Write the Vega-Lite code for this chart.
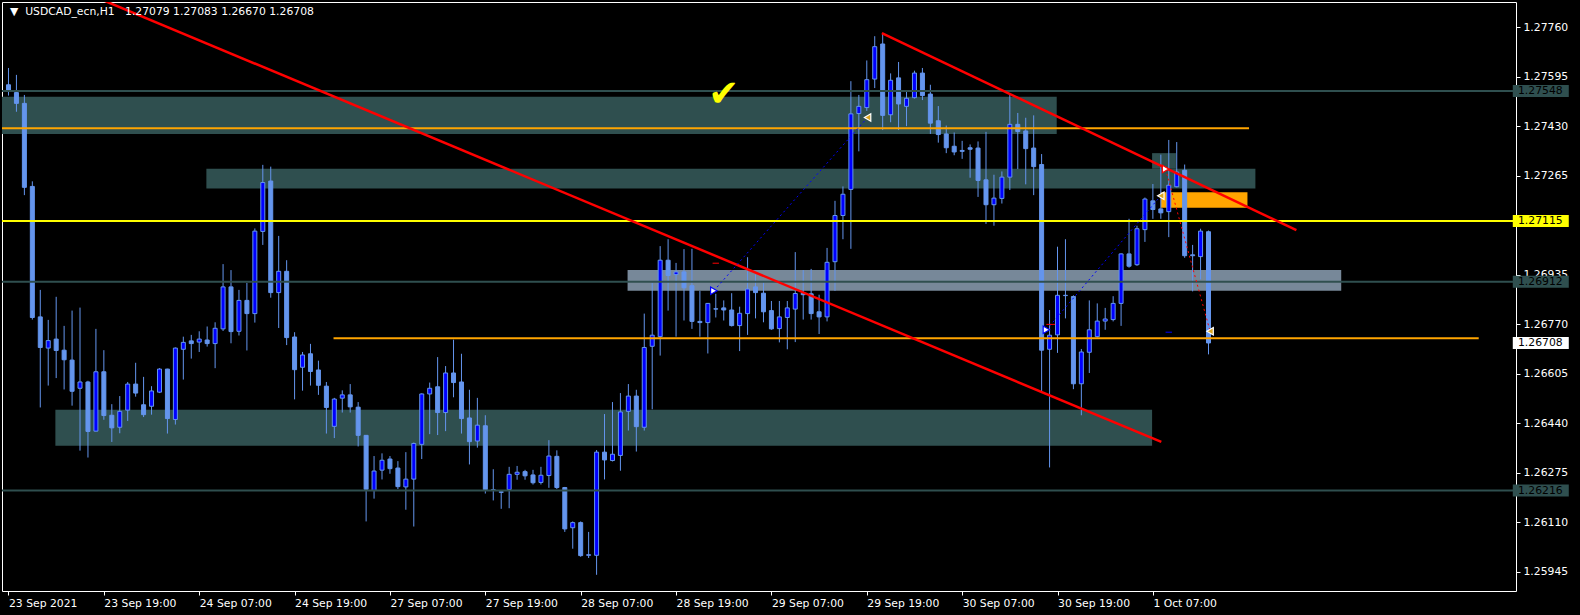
{
"$schema": "https://vega.github.io/schema/vega-lite/v6.json",
"width": 1514, "height": 589,
"autosize": {"type": "none"},
"padding": {"left": 2, "top": 2, "right": 64, "bottom": 24},
"background": "#000000",
"config": {
 "view": {"stroke": "#FFFFFF", "strokeWidth": 1},
 "font": "DejaVu Sans",
 "axisX": {"labelAlign": "left", "labelBaseline": "top", "labelPadding": 2, "tickSize": 4, "tickColor": "#FFFFFF", "tickWidth": 1,
  "labelColor": "#FFFFFF", "labelFontSize": 10.8, "labelFont": "DejaVu Sans", "domain": false, "grid": false, "zindex": 0,
  "labelOverlap": false, "labelBound": false, "labelFlush": false, "labelDx": 1},
 "axisY": {"labelAlign": "left", "labelBaseline": "middle", "tickSize": 4, "labelPadding": 3, "tickColor": "#FFFFFF", "tickWidth": 1,
  "labelColor": "#FFFFFF", "labelFontSize": 10.8, "labelFont": "DejaVu Sans", "domain": false, "grid": false, "zindex": 0,
  "labelOverlap": false, "labelBound": false, "labelFlush": false}
},
"datasets": {
"candles": [
{"i":0,"o":1.27569,"h":1.27625,"l":1.27533,"c":1.27551},
{"i":1,"o":1.27543,"h":1.27602,"l":1.27479,"c":1.27507},
{"i":2,"o":1.27507,"h":1.27535,"l":1.27201,"c":1.27227},
{"i":3,"o":1.27230,"h":1.27247,"l":1.26786,"c":1.26793},
{"i":4,"o":1.26795,"h":1.26885,"l":1.26493,"c":1.26693},
{"i":5,"o":1.26691,"h":1.26785,"l":1.26566,"c":1.26716},
{"i":6,"o":1.26721,"h":1.26862,"l":1.26591,"c":1.26683},
{"i":7,"o":1.26684,"h":1.26765,"l":1.26553,"c":1.26652},
{"i":8,"o":1.26651,"h":1.26816,"l":1.26499,"c":1.26547},
{"i":9,"o":1.26557,"h":1.26826,"l":1.26349,"c":1.26578},
{"i":10,"o":1.26578,"h":1.26582,"l":1.26326,"c":1.26413},
{"i":11,"o":1.26414,"h":1.26755,"l":1.26413,"c":1.26612},
{"i":12,"o":1.26612,"h":1.26684,"l":1.26452,"c":1.26466},
{"i":13,"o":1.26467,"h":1.26504,"l":1.26378,"c":1.26425},
{"i":14,"o":1.26427,"h":1.26531,"l":1.26407,"c":1.26480},
{"i":15,"o":1.26484,"h":1.26578,"l":1.26448,"c":1.26571},
{"i":16,"o":1.26571,"h":1.26642,"l":1.26529,"c":1.26541},
{"i":17,"o":1.26502,"h":1.26595,"l":1.26461,"c":1.26469},
{"i":18,"o":1.26497,"h":1.26564,"l":1.26469,"c":1.26548},
{"i":19,"o":1.26544,"h":1.26624,"l":1.26541,"c":1.26621},
{"i":20,"o":1.26621,"h":1.26622,"l":1.26406,"c":1.26456},
{"i":21,"o":1.26453,"h":1.26693,"l":1.26436,"c":1.26691},
{"i":22,"o":1.26687,"h":1.26729,"l":1.26586,"c":1.26710},
{"i":23,"o":1.26715,"h":1.26735,"l":1.26656,"c":1.26706},
{"i":24,"o":1.26711,"h":1.26747,"l":1.26678,"c":1.26721},
{"i":25,"o":1.26718,"h":1.26763,"l":1.26696,"c":1.26706},
{"i":26,"o":1.26706,"h":1.26777,"l":1.26624,"c":1.26757},
{"i":27,"o":1.26755,"h":1.26971,"l":1.26748,"c":1.26895},
{"i":28,"o":1.26895,"h":1.26951,"l":1.26707,"c":1.26746},
{"i":29,"o":1.26747,"h":1.26885,"l":1.26733,"c":1.26850},
{"i":30,"o":1.26850,"h":1.26908,"l":1.26683,"c":1.26806},
{"i":31,"o":1.26806,"h":1.27090,"l":1.26776,"c":1.27081},
{"i":32,"o":1.27080,"h":1.27302,"l":1.27035,"c":1.27243},
{"i":33,"o":1.27248,"h":1.27296,"l":1.26859,"c":1.26876},
{"i":34,"o":1.26876,"h":1.27065,"l":1.26758,"c":1.26947},
{"i":35,"o":1.26947,"h":1.26984,"l":1.26701,"c":1.26726},
{"i":36,"o":1.26728,"h":1.26744,"l":1.26520,"c":1.26619},
{"i":37,"o":1.26627,"h":1.26678,"l":1.26549,"c":1.26668},
{"i":38,"o":1.26672,"h":1.26705,"l":1.26566,"c":1.26613},
{"i":39,"o":1.26618,"h":1.26649,"l":1.26535,"c":1.26567},
{"i":40,"o":1.26564,"h":1.26578,"l":1.26406,"c":1.26493},
{"i":41,"o":1.26430,"h":1.26525,"l":1.26391,"c":1.26521},
{"i":42,"o":1.26524,"h":1.26550,"l":1.26476,"c":1.26535},
{"i":43,"o":1.26535,"h":1.26571,"l":1.26476,"c":1.26495},
{"i":44,"o":1.26494,"h":1.26511,"l":1.26363,"c":1.26400},
{"i":45,"o":1.26400,"h":1.26401,"l":1.26113,"c":1.26220},
{"i":46,"o":1.26216,"h":1.26331,"l":1.26189,"c":1.26281},
{"i":47,"o":1.26284,"h":1.26340,"l":1.26253,"c":1.26317},
{"i":48,"o":1.26321,"h":1.26331,"l":1.26272,"c":1.26289},
{"i":49,"o":1.26291,"h":1.26314,"l":1.26221,"c":1.26229},
{"i":50,"o":1.26228,"h":1.26344,"l":1.26152,"c":1.26254},
{"i":51,"o":1.26254,"h":1.26376,"l":1.26096,"c":1.26373},
{"i":52,"o":1.26370,"h":1.26540,"l":1.26321,"c":1.26538},
{"i":53,"o":1.26538,"h":1.26576,"l":1.26404,"c":1.26557},
{"i":54,"o":1.26562,"h":1.26661,"l":1.26401,"c":1.26476},
{"i":55,"o":1.26476,"h":1.26631,"l":1.26414,"c":1.26608},
{"i":56,"o":1.26608,"h":1.26719,"l":1.26527,"c":1.26576},
{"i":57,"o":1.26578,"h":1.26672,"l":1.26406,"c":1.26456},
{"i":58,"o":1.26458,"h":1.26552,"l":1.26303,"c":1.26379},
{"i":59,"o":1.26381,"h":1.26525,"l":1.26359,"c":1.26434},
{"i":60,"o":1.26432,"h":1.26467,"l":1.26206,"c":1.26219},
{"i":61,"o":1.26219,"h":1.26287,"l":1.26183,"c":1.26216},
{"i":62,"o":1.26212,"h":1.26213,"l":1.26155,"c":1.26210},
{"i":63,"o":1.26219,"h":1.26295,"l":1.26157,"c":1.26270},
{"i":64,"o":1.26270,"h":1.26298,"l":1.26252,"c":1.26277},
{"i":65,"o":1.26279,"h":1.26285,"l":1.26252,"c":1.26265},
{"i":66,"o":1.26268,"h":1.26285,"l":1.26236,"c":1.26242},
{"i":67,"o":1.26243,"h":1.26295,"l":1.26236,"c":1.26267},
{"i":68,"o":1.26266,"h":1.26384,"l":1.26225,"c":1.26331},
{"i":69,"o":1.26330,"h":1.26350,"l":1.26221,"c":1.26226},
{"i":70,"o":1.26226,"h":1.26228,"l":1.26078,"c":1.26088},
{"i":71,"o":1.26092,"h":1.26113,"l":1.26022,"c":1.26109},
{"i":72,"o":1.26109,"h":1.26113,"l":1.25995,"c":1.25999},
{"i":73,"o":1.26000,"h":1.26078,"l":1.25991,"c":1.26002},
{"i":74,"o":1.26000,"h":1.26351,"l":1.25935,"c":1.26344},
{"i":75,"o":1.26344,"h":1.26471,"l":1.26253,"c":1.26318},
{"i":76,"o":1.26316,"h":1.26511,"l":1.26313,"c":1.26337},
{"i":77,"o":1.26333,"h":1.26541,"l":1.26282,"c":1.26478},
{"i":78,"o":1.26480,"h":1.26571,"l":1.26416,"c":1.26531},
{"i":79,"o":1.26531,"h":1.26552,"l":1.26346,"c":1.26429},
{"i":80,"o":1.26427,"h":1.26806,"l":1.26416,"c":1.26693},
{"i":81,"o":1.26697,"h":1.26908,"l":1.26487,"c":1.26734},
{"i":82,"o":1.26729,"h":1.27031,"l":1.26666,"c":1.26984},
{"i":83,"o":1.26984,"h":1.27054,"l":1.26816,"c":1.26933},
{"i":84,"o":1.26936,"h":1.26975,"l":1.26729,"c":1.26945},
{"i":85,"o":1.26945,"h":1.27021,"l":1.26783,"c":1.26892},
{"i":86,"o":1.26899,"h":1.27022,"l":1.26755,"c":1.26780},
{"i":87,"o":1.26780,"h":1.26882,"l":1.26729,"c":1.26776},
{"i":88,"o":1.26776,"h":1.26841,"l":1.26673,"c":1.26840},
{"i":89,"o":1.26822,"h":1.26872,"l":1.26793,"c":1.26821},
{"i":90,"o":1.26825,"h":1.26850,"l":1.26783,"c":1.26818},
{"i":91,"o":1.26818,"h":1.26874,"l":1.26763,"c":1.26766},
{"i":92,"o":1.26766,"h":1.26829,"l":1.26681,"c":1.26807},
{"i":93,"o":1.26806,"h":1.26994,"l":1.26735,"c":1.26888},
{"i":94,"o":1.26895,"h":1.26936,"l":1.26790,"c":1.26876},
{"i":95,"o":1.26874,"h":1.26910,"l":1.26777,"c":1.26812},
{"i":96,"o":1.26816,"h":1.26848,"l":1.26752,"c":1.26755},
{"i":97,"o":1.26756,"h":1.26848,"l":1.26710,"c":1.26795},
{"i":98,"o":1.26793,"h":1.26848,"l":1.26687,"c":1.26825},
{"i":99,"o":1.26821,"h":1.27011,"l":1.26711,"c":1.26873},
{"i":100,"o":1.26874,"h":1.26951,"l":1.26786,"c":1.26869},
{"i":101,"o":1.26872,"h":1.26955,"l":1.26786,"c":1.26806},
{"i":102,"o":1.26812,"h":1.26869,"l":1.26738,"c":1.26795},
{"i":103,"o":1.26795,"h":1.27025,"l":1.26780,"c":1.26977},
{"i":104,"o":1.26979,"h":1.27182,"l":1.26882,"c":1.27133},
{"i":105,"o":1.27133,"h":1.27230,"l":1.27054,"c":1.27204},
{"i":106,"o":1.27220,"h":1.27581,"l":1.27022,"c":1.27472},
{"i":107,"o":1.27473,"h":1.27535,"l":1.27347,"c":1.27497},
{"i":108,"o":1.27493,"h":1.27650,"l":1.27482,"c":1.27586},
{"i":109,"o":1.27588,"h":1.27731,"l":1.27558,"c":1.27696},
{"i":110,"o":1.27705,"h":1.27740,"l":1.27418,"c":1.27467},
{"i":111,"o":1.27469,"h":1.27607,"l":1.27444,"c":1.27584},
{"i":112,"o":1.27592,"h":1.27645,"l":1.27418,"c":1.27505},
{"i":113,"o":1.27497,"h":1.27546,"l":1.27431,"c":1.27524},
{"i":114,"o":1.27526,"h":1.27616,"l":1.27523,"c":1.27608},
{"i":115,"o":1.27608,"h":1.27625,"l":1.27518,"c":1.27533},
{"i":116,"o":1.27538,"h":1.27569,"l":1.27405,"c":1.27441},
{"i":117,"o":1.27449,"h":1.27498,"l":1.27376,"c":1.27403},
{"i":118,"o":1.27405,"h":1.27433,"l":1.27341,"c":1.27359},
{"i":119,"o":1.27364,"h":1.27410,"l":1.27334,"c":1.27345},
{"i":120,"o":1.27350,"h":1.27382,"l":1.27322,"c":1.27347},
{"i":121,"o":1.27359,"h":1.27370,"l":1.27259,"c":1.27354},
{"i":122,"o":1.27358,"h":1.27380,"l":1.27195,"c":1.27250},
{"i":123,"o":1.27252,"h":1.27412,"l":1.27105,"c":1.27169},
{"i":124,"o":1.27169,"h":1.27269,"l":1.27099,"c":1.27191},
{"i":125,"o":1.27190,"h":1.27280,"l":1.27173,"c":1.27261},
{"i":126,"o":1.27261,"h":1.27539,"l":1.27218,"c":1.27437},
{"i":127,"o":1.27437,"h":1.27475,"l":1.27288,"c":1.27413},
{"i":128,"o":1.27415,"h":1.27459,"l":1.27237,"c":1.27356},
{"i":129,"o":1.27358,"h":1.27467,"l":1.27201,"c":1.27296},
{"i":130,"o":1.27303,"h":1.27338,"l":1.26544,"c":1.26684},
{"i":131,"o":1.26687,"h":1.26818,"l":1.26293,"c":1.26734},
{"i":132,"o":1.26735,"h":1.27029,"l":1.26675,"c":1.26867},
{"i":133,"o":1.26866,"h":1.27054,"l":1.26790,"c":1.26867},
{"i":134,"o":1.26863,"h":1.26867,"l":1.26554,"c":1.26572},
{"i":135,"o":1.26572,"h":1.26688,"l":1.26467,"c":1.26678},
{"i":136,"o":1.26677,"h":1.26850,"l":1.26608,"c":1.26752},
{"i":137,"o":1.26729,"h":1.26840,"l":1.26726,"c":1.26781},
{"i":138,"o":1.26781,"h":1.26825,"l":1.26752,"c":1.26788},
{"i":139,"o":1.26786,"h":1.26864,"l":1.26780,"c":1.26840},
{"i":140,"o":1.26840,"h":1.27007,"l":1.26765,"c":1.27005},
{"i":141,"o":1.27005,"h":1.27122,"l":1.26959,"c":1.26964},
{"i":142,"o":1.26969,"h":1.27099,"l":1.26965,"c":1.27089},
{"i":143,"o":1.27086,"h":1.27193,"l":1.27045,"c":1.27188},
{"i":144,"o":1.27182,"h":1.27238,"l":1.27122,"c":1.27153},
{"i":145,"o":1.27155,"h":1.27336,"l":1.27122,"c":1.27142},
{"i":146,"o":1.27146,"h":1.27385,"l":1.27061,"c":1.27234},
{"i":147,"o":1.27229,"h":1.27378,"l":1.27227,"c":1.27278},
{"i":148,"o":1.27284,"h":1.27303,"l":1.26992,"c":1.26999},
{"i":149,"o":1.27002,"h":1.27035,"l":1.26880,"c":1.26999},
{"i":150,"o":1.26996,"h":1.27089,"l":1.26920,"c":1.27081},
{"i":151,"o":1.27079,"h":1.27083,"l":1.26670,"c":1.26708}
],
"zones": [
{"x0":-1,"x1":131.9,"p0":1.27405,"p1":1.27529,"kind":"zone"},
{"x0":24.9,"x1":156.9,"p0":1.27223,"p1":1.27289,"kind":"zone"},
{"x0":143.9,"x1":146.9,"p0":1.27289,"p1":1.27341,"kind":"zone"},
{"x0":5.9,"x1":143.9,"p0":1.26365,"p1":1.26485,"kind":"zone"},
{"x0":77.9,"x1":167.7,"p0":1.26882,"p1":1.26951,"kind":"range"},
{"x0":145.0,"x1":155.9,"p0":1.27159,"p1":1.27211,"kind":"entry"}
],
"levels": [
{"p":1.27548,"kind":"sr"},
{"p":1.27115,"kind":"pivot"},
{"p":1.26912,"kind":"sr"},
{"p":1.26216,"kind":"sr"}
],
"segments": [
{"x0":-1,"x1":156.1,"p":1.27424},
{"x0":40.9,"x1":185,"p":1.26724}
],
"trends": [
{"x0":10,"p0":1.27872,"x1":145.06,"p1":1.26378},
{"x0":109.9,"p0":1.27741,"x1":162.06,"p1":1.27084}
],
"trades": [
{"x0":88.75,"p0":1.26882,"x1":108.1,"p1":1.27460,"side":"buy"},
{"x0":130.6,"p0":1.26752,"x1":145.0,"p1":1.27199,"side":"buy"},
{"x0":145.6,"p0":1.27288,"x1":151.2,"p1":1.26747,"side":"sell"}
],
"stops": [
{"x0":88.6,"x1":89.4,"p":1.26974,"side":"sell"},
{"x0":130.6,"x1":131.7,"p":1.26770,"side":"sell"},
{"x0":145.6,"x1":146.4,"p":1.26744,"side":"buy"}
],
"arrows": [
{"x":88.75,"p":1.26882,"kind":"entry","side":"buy"},
{"x":130.6,"p":1.26752,"kind":"entry","side":"buy"},
{"x":145.6,"p":1.27288,"kind":"entry","side":"sell"},
{"x":108.1,"p":1.27460,"kind":"exit","side":"buy"},
{"x":145.0,"p":1.27199,"kind":"exit","side":"buy"},
{"x":151.2,"p":1.26747,"kind":"exit","side":"sell"}
],
"notes": [
{"x":90,"p":1.27535,"t":"✔"}
],
"header": [
{"x":0.19,"p":1.27812,"t":"▼\u00a0\u00a0USDCAD_ecn,H1\u00a0\u00a0 1.27079 1.27083 1.26670 1.26708"}
],
"labels": [
{"p":1.27548,"kind":"sr"},
{"p":1.27115,"kind":"pivot"},
{"p":1.26912,"kind":"sr"},
{"p":1.26708,"kind":"last"},
{"p":1.26216,"kind":"sr"}
]
},
"layer": [
{
"data": {"name": "zones"},
"mark": {"type": "rect", "clip": true},
"encoding": {
"x": {"field": "x0", "type": "quantitative", "title": null, "scale": {"domain": [-0.1875, 189.0625], "nice": false, "zero": false},
 "axis": {"values": [0,12,24,36,48,60,72,84,96,108,120,132,144],
  "labelExpr": "['23 Sep 2021','23 Sep 19:00','24 Sep 07:00','24 Sep 19:00','27 Sep 07:00','27 Sep 19:00','28 Sep 07:00','28 Sep 19:00','29 Sep 07:00','29 Sep 19:00','30 Sep 07:00','30 Sep 19:00','1 Oct 07:00'][round(datum.value/12)]",
  "title": null}},
"x2": {"field": "x1"},
"y": {"field": "p0", "type": "quantitative", "title": null, "scale": {"domain": [1.25881, 1.27845], "nice": false, "zero": false},
 "axis": {"orient": "right", "values": [1.2776,1.27595,1.2743,1.27265,1.26935,1.2677,1.26605,1.2644,1.26275,1.2611,1.25945],
  "format": ".5f", "title": null}},
"y2": {"field": "p1"},
"fill": {"condition": [{"test": "datum.kind == 'range'", "value": "#778899"}, {"test": "datum.kind == 'entry'", "value": "#FFA500"}], "value": "#2F4F4F"}
}
},
{
"data": {"name": "candles"},
"mark": {"type": "rule", "color": "#6495ED", "strokeWidth": 1, "clip": true},
"encoding": {
"x": {"field": "i", "type": "quantitative", "title": null},
"y": {"field": "l", "type": "quantitative", "title": null},
"y2": {"field": "h"}
}
},
{
"data": {"name": "candles"},
"mark": {"type": "bar", "size": 4, "stroke": "#6495ED", "strokeWidth": 1, "clip": true},
"encoding": {
"x": {"field": "i", "type": "quantitative", "title": null},
"y": {"field": "o", "type": "quantitative", "title": null},
"y2": {"field": "c"},
"fill": {"condition": {"test": "datum.c > datum.o", "value": "#0000FF"}, "value": "#6495ED"}
}
},
{
"data": {"name": "levels"},
"mark": {"type": "rule", "strokeWidth": 2, "clip": true},
"encoding": {
"y": {"field": "p", "type": "quantitative", "title": null},
"color": {"condition": {"test": "datum.kind == 'pivot'", "value": "#FFFF00"}, "value": "#2F4F4F"}
}
},
{
"data": {"name": "segments"},
"mark": {"type": "rule", "strokeWidth": 2, "color": "#FFA500", "clip": true},
"encoding": {
"x": {"field": "x0", "type": "quantitative", "title": null},
"x2": {"field": "x1"},
"y": {"field": "p", "type": "quantitative", "title": null}
}
},
{
"data": {"name": "trends"},
"mark": {"type": "rule", "strokeWidth": 2.5, "color": "#FF0000", "clip": true},
"encoding": {
"x": {"field": "x0", "type": "quantitative", "title": null},
"x2": {"field": "x1"},
"y": {"field": "p0", "type": "quantitative", "title": null},
"y2": {"field": "p1"}
}
},
{
"data": {"name": "trades"},
"mark": {"type": "rule", "strokeWidth": 1, "strokeDash": [2, 3], "clip": true},
"encoding": {
"x": {"field": "x0", "type": "quantitative", "title": null},
"x2": {"field": "x1"},
"y": {"field": "p0", "type": "quantitative", "title": null},
"y2": {"field": "p1"},
"color": {"condition": {"test": "datum.side == 'sell'", "value": "#FF0000"}, "value": "#0000FF"}
}
},
{
"data": {"name": "stops"},
"mark": {"type": "rule", "strokeWidth": 1, "clip": true},
"encoding": {
"x": {"field": "x0", "type": "quantitative", "title": null},
"x2": {"field": "x1"},
"y": {"field": "p", "type": "quantitative", "title": null},
"color": {"condition": {"test": "datum.side == 'sell'", "value": "#FF0000"}, "value": "#0000FF"}
}
},
{
"data": {"name": "arrows"},
"mark": {"type": "point", "filled": true, "size": 55, "strokeWidth": 1.2, "opacity": 1, "clip": true},
"encoding": {
"x": {"field": "x", "type": "quantitative", "title": null},
"y": {"field": "p", "type": "quantitative", "title": null},
"shape": {"condition": {"test": "datum.kind == 'exit'", "value": "triangle-left"}, "value": "triangle-right"},
"fill": {"condition": {"test": "datum.kind == 'exit'", "value": "#DAA520"}, "value": "#FFFFFF"},
"stroke": {"condition": [{"test": "datum.kind == 'exit'", "value": "#FFFFFF"}, {"test": "datum.side == 'sell'", "value": "#FF0000"}], "value": "#0000FF"}
}
},
{
"data": {"name": "notes"},
"mark": {"type": "text", "fontSize": 37, "color": "#FFFF00", "align": "center", "baseline": "middle", "font": "DejaVu Sans"},
"encoding": {
"x": {"field": "x", "type": "quantitative", "title": null},
"y": {"field": "p", "type": "quantitative", "title": null},
"text": {"field": "t"}
}
},
{
"data": {"name": "header"},
"mark": {"type": "text", "fontSize": 10.8, "color": "#FFFFFF", "align": "left", "baseline": "middle", "font": "DejaVu Sans"},
"encoding": {
"x": {"field": "x", "type": "quantitative", "title": null},
"y": {"field": "p", "type": "quantitative", "title": null},
"text": {"field": "t"}
}
},
{
"data": {"name": "labels"},
"mark": {"type": "point", "shape": "M-1,-0.216H1V0.216H-1Z", "size": 3136, "filled": true, "opacity": 1, "strokeWidth": 0, "clip": false},
"encoding": {
"x": {"datum": 192.81, "type": "quantitative", "title": null},
"y": {"field": "p", "type": "quantitative", "title": null},
"fill": {"condition": [{"test": "datum.kind == 'pivot'", "value": "#FFFF00"}, {"test": "datum.kind == 'last'", "value": "#FFFFFF"}], "value": "#2F4F4F"}
}
},
{
"data": {"name": "labels"},
"mark": {"type": "text", "align": "left", "baseline": "middle", "fontSize": 10.8, "font": "DejaVu Sans", "color": "#000000", "clip": false},
"encoding": {
"x": {"datum": 189.94, "type": "quantitative", "title": null},
"y": {"field": "p", "type": "quantitative", "title": null},
"text": {"field": "p", "type": "quantitative", "format": ".5f"}
}
}
]
}
